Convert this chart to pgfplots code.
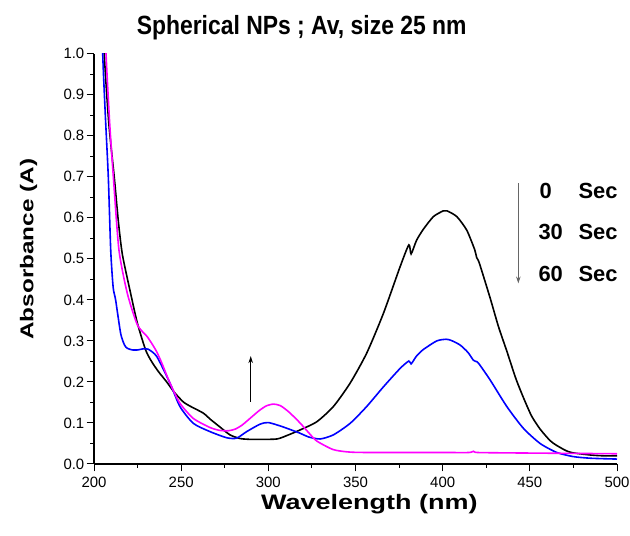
\documentclass[border=0pt]{standalone}
\usepackage{pgfplots}
\pgfplotsset{compat=1.18}
\usepackage{fontspec}
\setmainfont{Liberation Sans}
\usetikzlibrary{arrows.meta}
\usepackage{graphicx}

\definecolor{spblue}{RGB}{0,0,255}
\definecolor{spmag}{RGB}{255,0,255}

\begin{document}
\begin{tikzpicture}
\begin{axis}[
    at={(94bp,72bp)}, anchor=south west,
    scale only axis, width=523bp, height=410.3bp,
    xmin=200, xmax=500, ymin=0, ymax=1,
    axis x line=bottom, axis y line=left,
    axis line style={-, line width=1.2bp},
    tick align=outside,
    major tick length=7.5bp, minor tick length=4bp,
    every tick/.style={black, line width=1bp},
    xtick={200,250,...,500}, minor x tick num=1,
    ytick={0,0.1,...,1.0}, minor y tick num=1,
    yticklabel style={/pgf/number format/fixed, /pgf/number format/precision=1,
        /pgf/number format/fixed zerofill, inner sep=2bp},
    xticklabel style={inner sep=5bp},
    /pgf/number format/assume math mode=true,
    tick label style={font=\fontsize{15}{15}\selectfont},
    every axis plot/.append style={line width=1.6bp, smooth, tension=0.4},
]
% 0 Sec
\addplot[black] coordinates {
(204.5,1.20) (205.9,1.00) (208.5,0.83) (211.6,0.70) (214.0,0.59) (216.3,0.51)
(221.0,0.416) (224.9,0.343) (229.6,0.278) (233,0.250) (237,0.225) (241.7,0.200)
(246,0.175) (251.3,0.151) (256,0.139) (262.7,0.124) (267,0.108) (272.3,0.090)
(278,0.071) (283.8,0.062) (290,0.060) (296,0.060) (305,0.061) (311,0.070)
(318.2,0.083) (327.8,0.103) (337.3,0.140) (346.9,0.197) (356.4,0.270)
(366,0.367) (375.6,0.481) (380.6,0.534) (381.9,0.512) (385,0.545) (388.9,0.572)
(394.7,0.603) (400.4,0.617) (402.5,0.617) (408.1,0.603) (413.8,0.570)
(418.4,0.522) (419.5,0.503) (421,0.490) (427.2,0.405) (432,0.335) (436.8,0.275)
(442,0.208) (446.3,0.162) (451,0.117) (455.9,0.085) (461.6,0.057) (465.5,0.045)
(471,0.032) (475,0.027) (484.6,0.022) (492,0.020) (500,0.020)
};
% 30 Sec
\addplot[spblue] coordinates {
(204.0,1.20) (205.0,1.00) (206.5,0.85) (208.2,0.70) (209.6,0.52) (211,0.43)
(212.4,0.40) (215.3,0.318) (217.5,0.290) (219.1,0.282) (222,0.278) (225,0.278)
(228.7,0.281) (231,0.280) (236,0.262) (243.6,0.197) (249.3,0.140) (257,0.099)
(266.5,0.079) (276.1,0.064) (281.8,0.063) (287.6,0.079) (295.2,0.097)
(300,0.101) (308,0.091) (318.2,0.075) (323,0.066) (329.7,0.061) (337.3,0.071)
(346.9,0.099) (356.4,0.140) (366,0.188) (375.6,0.233) (380.6,0.251)
(381.9,0.244) (385,0.263) (388.9,0.279) (396.6,0.300) (402,0.304) (405,0.301)
(410,0.290) (414.5,0.272) (417.6,0.253) (419,0.250) (420.5,0.246) (427.2,0.205)
(436.8,0.140) (446.3,0.087) (455.9,0.050) (465.5,0.028) (475,0.018)
(485,0.014) (500,0.012)
};
% 60 Sec
\addplot[spmag] coordinates {
(205.2,1.20) (206.9,1.00) (209,0.83) (211.1,0.70) (214.3,0.522) (219.1,0.416)
(224.9,0.339) (230.6,0.310) (235.4,0.278) (238.5,0.250) (243.6,0.197)
(249.3,0.148) (257,0.111) (266.5,0.089) (272,0.082) (277,0.081) (281,0.085)
(285,0.095) (290,0.113) (295,0.131) (299,0.142) (303,0.146) (307,0.142)
(312,0.126) (318.2,0.100) (323,0.077) (327.8,0.056) (337.3,0.035) (346.9,0.029)
(360,0.028) (400,0.028) (415,0.028) (417.6,0.031) (420,0.028) (440,0.027)
(470,0.026) (500,0.025)
};
\draw[line width=0.9bp, -{Stealth[length=7bp, width=4.5bp]}]
    (axis cs:289.9,0.152) -- (axis cs:289.9,0.263);
\draw[line width=1bp, black!60, -{Stealth[length=7bp, width=4.5bp]}]
    (axis cs:443.4,0.684) -- (axis cs:443.4,0.440);
\end{axis}

\node[anchor=base, inner sep=0, font=\fontsize{23}{23}\selectfont\bfseries]
    at (301.7bp,501bp) {\scalebox{1}[1.15]{Spherical NPs ; Av, size 25 nm}};
\node[anchor=base, inner sep=0, font=\fontsize{21}{21}\selectfont\bfseries]
    at (369.3bp,26.5bp) {\scalebox{1.29}[1]{Wavelength (nm)}};
\node[anchor=base, rotate=90, inner sep=0, font=\fontsize{18.6}{19}\selectfont\bfseries]
    at (33.3bp,286.8bp) {\scalebox{1.31}[1]{Absorbance (A)}};

\begin{scope}[every node/.style={anchor=base west, inner sep=0, font=\fontsize{22}{22}\selectfont\bfseries}]
\node at (539.3bp,337.7bp) {0};
\node at (538.3bp,296bp) {30};
\node at (538.3bp,254.3bp) {60};
\node at (578.3bp,337.7bp) {Sec};
\node at (578.3bp,296bp) {Sec};
\node at (578.3bp,254.3bp) {Sec};
\end{scope}

\pgfresetboundingbox
\path[use as bounding box] (0,0) rectangle (630bp,536bp);
\end{tikzpicture}
\end{document}
